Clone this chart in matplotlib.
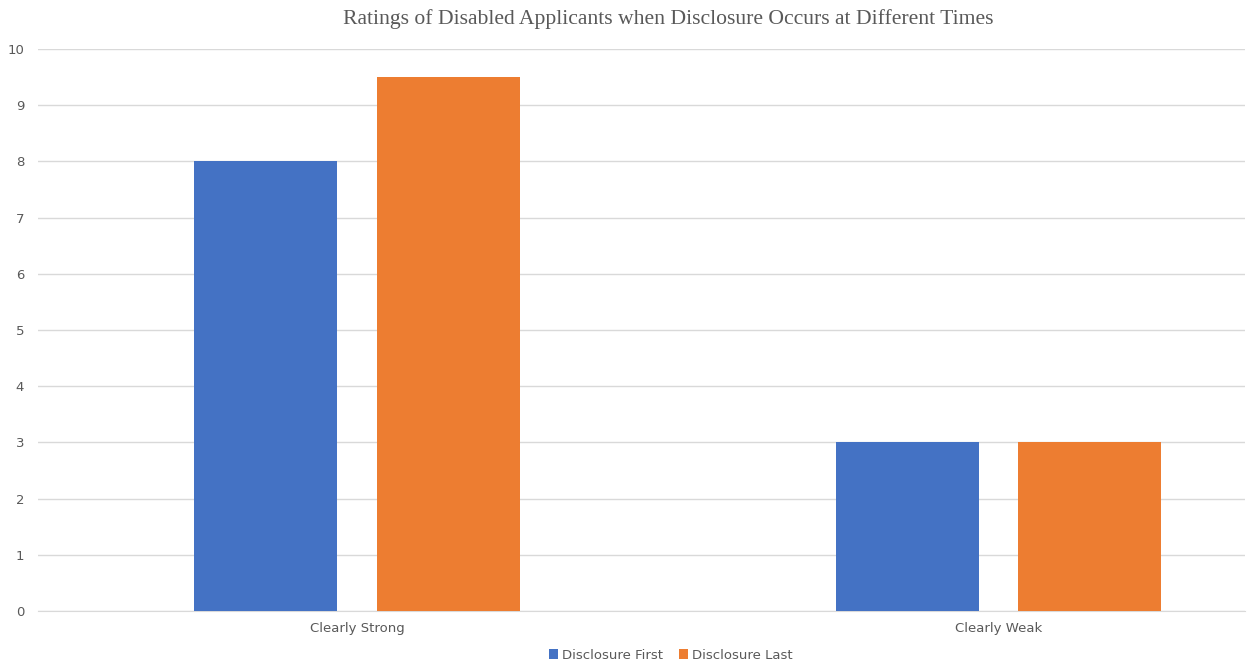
import numpy as np
import matplotlib.pyplot as plt

categories = ['Clearly Strong', 'Clearly Weak']
disclosure_first = [8, 3]
disclosure_last = [9.5, 3]
series_names = ['Disclosure First', 'Disclosure Last']

blue = '#4472c4'
orange = '#ed7d31'
grey_text = '#595959'

fig = plt.figure(figsize=(12.51, 6.63), dpi=100)
ax = fig.add_axes([0.0304, 0.0784, 0.965, 0.8477])

x = np.arange(len(categories))
w = 0.223
off = 0.1425
ax.bar(x - off, disclosure_first, w, color=blue, label=series_names[0], zorder=3)
ax.bar(x + off, disclosure_last, w, color=orange, label=series_names[1], zorder=3)

ax.set_xlim(-0.498, 1.385)
ax.set_ylim(0, 10)
ax.set_yticks(range(0, 11))
ax.set_xticks(x)
ax.set_xticklabels(categories)
ax.grid(axis='y', color='#d9d9d9', linewidth=1, zorder=0)
for s in ['top', 'right', 'left']:
    ax.spines[s].set_visible(False)
ax.spines['bottom'].set_color('#d9d9d9')
ax.tick_params(axis='both', length=0, colors=grey_text, labelsize=9.5)
ax.tick_params(axis='y', pad=10)
ax.tick_params(axis='x', pad=8)

fig.text(0.534, 0.972, 'Ratings of Disabled Applicants when Disclosure Occurs at Different Times',
         ha='center', va='center', fontsize=15.6, color=grey_text, family='Liberation Serif')

fig.legend(loc='center', bbox_to_anchor=(0.536, 0.012), ncol=2, frameon=False,
           fontsize=9.5, handlelength=0.7, handleheight=0.7, handletextpad=0.3,
           columnspacing=1.2, labelcolor=grey_text)

fig.savefig('out.png', dpi=100)
